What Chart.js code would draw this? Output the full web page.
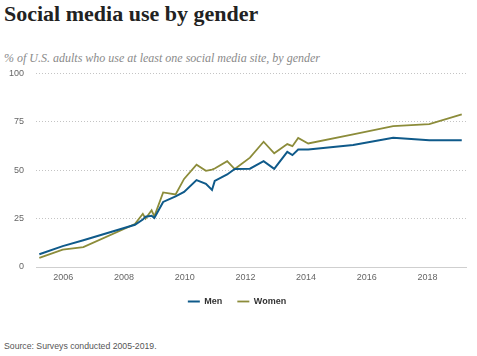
<!DOCTYPE html>
<html>
<head>
<meta charset="utf-8">
<script src="https://cdn.jsdelivr.net/npm/chart.js@4.4.1/dist/chart.umd.min.js"></script>
<style>
  html, body { margin: 0; padding: 0; background: #fff; }
  body { width: 477px; height: 356px; position: relative; overflow: hidden; }
  #title { position: absolute; left: 4px; top: 1px; font-family: "Liberation Serif", serif; font-weight: bold; font-size: 22px; color: #222; white-space: nowrap; }
  #subtitle { position: absolute; left: 4px; top: 51px; font-family: "Liberation Serif", serif; font-style: italic; font-size: 12px; color: #8a8a8a; white-space: nowrap; }
  #source { position: absolute; left: 4px; top: 341px; font-family: "Liberation Sans", sans-serif; font-size: 8.7px; color: #555; white-space: nowrap; }
  #wrap { position: absolute; left: 0; top: 56px; width: 477px; height: 264px; }
</style>
</head>
<body>
<div id="title">Social media use by gender</div>
<div id="subtitle">% of U.S. adults who use at least one social media site, by gender</div>
<div id="wrap"><canvas id="c"></canvas></div>
<div id="source">Source: Surveys conducted 2005-2019.</div>
<script>
// Survey dates (decimal years)
const surveyDates = [2005.21, 2005.98, 2006.66, 2008.36, 2008.62, 2008.71, 2008.91, 2009.0, 2009.29, 2009.70, 2009.98, 2010.39, 2010.70, 2010.90, 2010.99, 2011.40, 2011.65, 2012.15, 2012.60, 2012.95, 2013.38, 2013.55, 2013.74, 2014.07, 2015.55, 2016.87, 2018.06, 2019.13];
const menValues   = [6.6, 10.8, 13.8, 21.8, 24.5, 26.0, 26.5, 25.3, 33.6, 36.5, 38.8, 44.9, 43.0, 39.8, 44.5, 47.8, 50.6, 50.8, 54.7, 50.7, 59.5, 57.8, 60.7, 60.7, 63.0, 66.7, 65.5, 65.5];
const womenValues = [4.7, 9.0, 10.3, 22.2, 27.5, 25.0, 29.3, 26.2, 38.5, 37.5, 45.5, 52.8, 49.7, 50.3, 50.9, 54.7, 50.6, 56.5, 64.7, 58.7, 63.5, 62.4, 66.7, 63.8, 68.5, 72.8, 73.8, 78.8];
const xTickYears = [2006, 2008, 2010, 2012, 2014, 2016, 2018];
const yTickValues = [0, 25, 50, 75, 100];
const seriesNames = ["Men", "Women"];

const menColor = "#0f5a8a";
const womenColor = "#8c8c3a";

const toPoints = (vals) => vals.map((v, i) => ({ x: surveyDates[i], y: v }));

new Chart(document.getElementById("c"), {
  type: "line",
  data: {
    datasets: [
      { label: seriesNames[0], data: toPoints(menValues), borderColor: menColor, backgroundColor: menColor, borderWidth: 2, pointRadius: 0, tension: 0 },
      { label: seriesNames[1], data: toPoints(womenValues), borderColor: womenColor, backgroundColor: womenColor, borderWidth: 1.8, pointRadius: 0, tension: 0 }
    ]
  },
  options: {
    responsive: true,
    maintainAspectRatio: false,
    animation: false,
    layout: { padding: { top: 6, right: 11, left: 8, bottom: 4 } },
    plugins: {
      tooltip: { enabled: false },
      legend: {
        position: "bottom",
        labels: {
          usePointStyle: true,
          pointStyle: "line",
          pointStyleWidth: 12,
          boxHeight: 9,
          padding: 15,
          color: "#333",
          font: { family: "Liberation Sans", size: 9, weight: "bold" }
        }
      }
    },
    scales: {
      x: {
        type: "linear",
        min: 2005.1,
        max: 2019.27,
        afterBuildTicks: (s) => { s.ticks = xTickYears.map(v => ({ value: v })); },
        afterFit: (s) => { s.height = 15; },
        grid: { display: false, drawTicks: false },
        border: { display: true, color: "#cfcfcf", width: 1 },
        ticks: { padding: 5, color: "#666", font: { family: "Liberation Sans", size: 9 }, callback: (v) => String(v), maxRotation: 0 }
      },
      y: {
        min: 0,
        max: 100,
        afterBuildTicks: (s) => { s.ticks = yTickValues.map(v => ({ value: v })); },
        afterFit: (s) => { s.width = 28; },
        grid: { drawTicks: false, color: (ctx) => (ctx.tick && ctx.tick.value === 0) ? "rgba(0,0,0,0)" : "#c4c4c4", lineWidth: 1 },
        border: { display: false, dash: [1, 2] },
        ticks: { padding: 12, color: "#666", font: { family: "Liberation Sans", size: 9 } }
      }
    }
  }
});
</script>
</body>
</html>
